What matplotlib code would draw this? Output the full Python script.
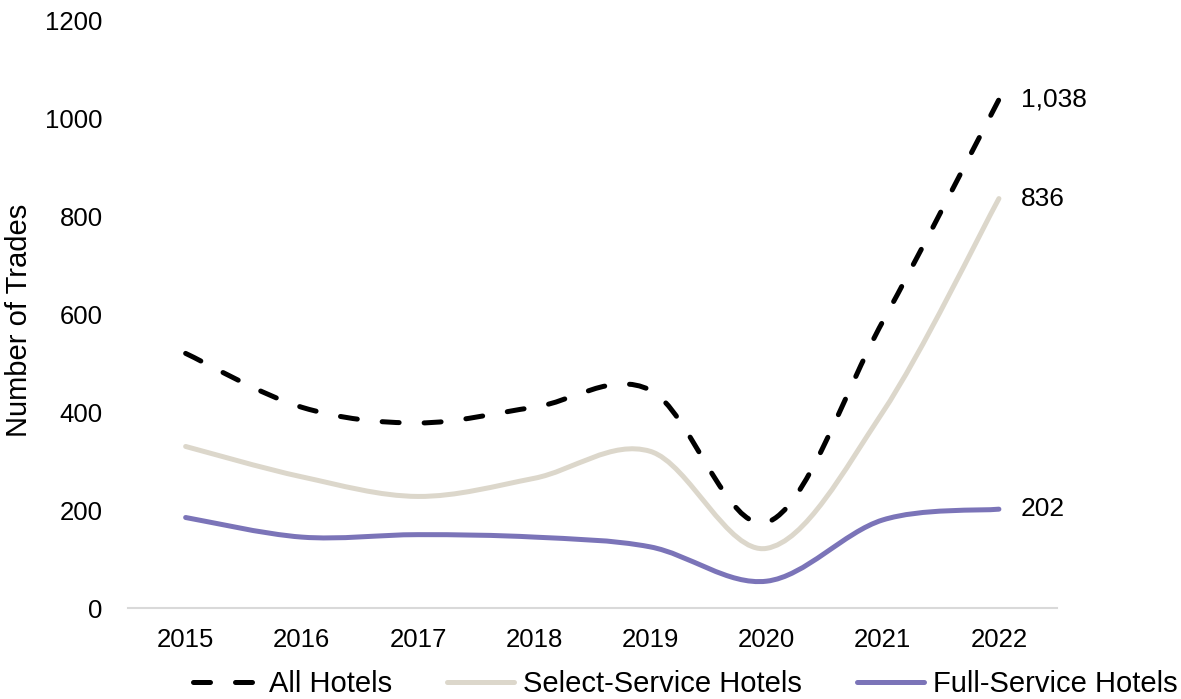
import matplotlib.pyplot as plt
from matplotlib.path import Path
from matplotlib.patches import PathPatch
from matplotlib.lines import Line2D

plt.rcParams['font.family'] = ['Liberation Sans', 'DejaVu Sans']

years = ['2015', '2016', '2017', '2018', '2019', '2020', '2021', '2022']
all_hotels = [520, 410, 378, 410, 445, 175, 585, 1038]
select_service = [330, 268, 228, 265, 320, 122, 400, 836]
full_service = [185, 145, 150, 145, 125, 55, 180, 202]

series = [
    ('All Hotels', all_hotels, 'black', (0, (3.4, 5.0))),
    ('Select-Service Hotels', select_service, '#dcd7cb', '-'),
    ('Full-Service Hotels', full_service, '#7b74b8', '-'),
]
# left edge of each legend entry, in figure fraction
legend_x = [0.1634, 0.3785, 0.7257]


def smooth_path(xs, ys):
    # cubic bezier through every point, excel-style smoothing
    pts = list(zip(xs, ys))
    n = len(pts)
    verts = [pts[0]]
    codes = [Path.MOVETO]
    for i in range(n - 1):
        p0 = pts[max(i - 1, 0)]
        p1 = pts[i]
        p2 = pts[i + 1]
        p3 = pts[min(i + 2, n - 1)]
        c1 = (p1[0] + (p2[0] - p0[0]) / 6, p1[1] + (p2[1] - p0[1]) / 6)
        c2 = (p2[0] - (p3[0] - p1[0]) / 6, p2[1] - (p3[1] - p1[1]) / 6)
        verts += [c1, c2, p2]
        codes += [Path.CURVE4] * 3
    return Path(verts, codes)


fig = plt.figure(figsize=(11.81, 6.99), dpi=100)
ax = fig.add_axes([0.108, 0.13, 0.787, 0.841])

x = list(range(len(years)))
for (name, vals, color, ls), lx in zip(series, legend_x):
    patch = PathPatch(smooth_path(x, vals), fill=False, edgecolor=color,
                      linewidth=3.6, linestyle=ls, capstyle='round', joinstyle='round')
    ax.add_patch(patch)
    ax.text(x[-1] + 0.19, vals[-1], f'{vals[-1]:,}', fontsize=19, va='center', ha='left')

    handle = Line2D([], [], color=color, linewidth=3.6, linestyle=ls,
                    dash_capstyle='round', solid_capstyle='round')
    fig.legend([handle], [name], loc='center left', bbox_to_anchor=(lx, 0.021),
               frameon=False, fontsize=21, handlelength=2.3, handletextpad=0.3,
               borderpad=0, borderaxespad=0)

ax.set_xlim(-0.5, len(years) - 0.5)
ax.set_ylim(0, 1200)
ax.set_yticks(range(0, 1201, 200))
ax.set_xticks(x)
ax.set_xticklabels(years)
ax.tick_params(axis='both', length=0, labelsize=18.5)
ax.tick_params(axis='y', pad=18)
ax.tick_params(axis='x', pad=14)
for side in ['top', 'right', 'left']:
    ax.spines[side].set_visible(False)
ax.spines['bottom'].set_color('#d9d9d9')
ax.spines['bottom'].set_linewidth(1.5)
ax.set_ylabel('Number of Trades', fontsize=21)
ax.yaxis.set_label_coords(-0.102, 0.49)

fig.savefig('out.png', dpi=100)
